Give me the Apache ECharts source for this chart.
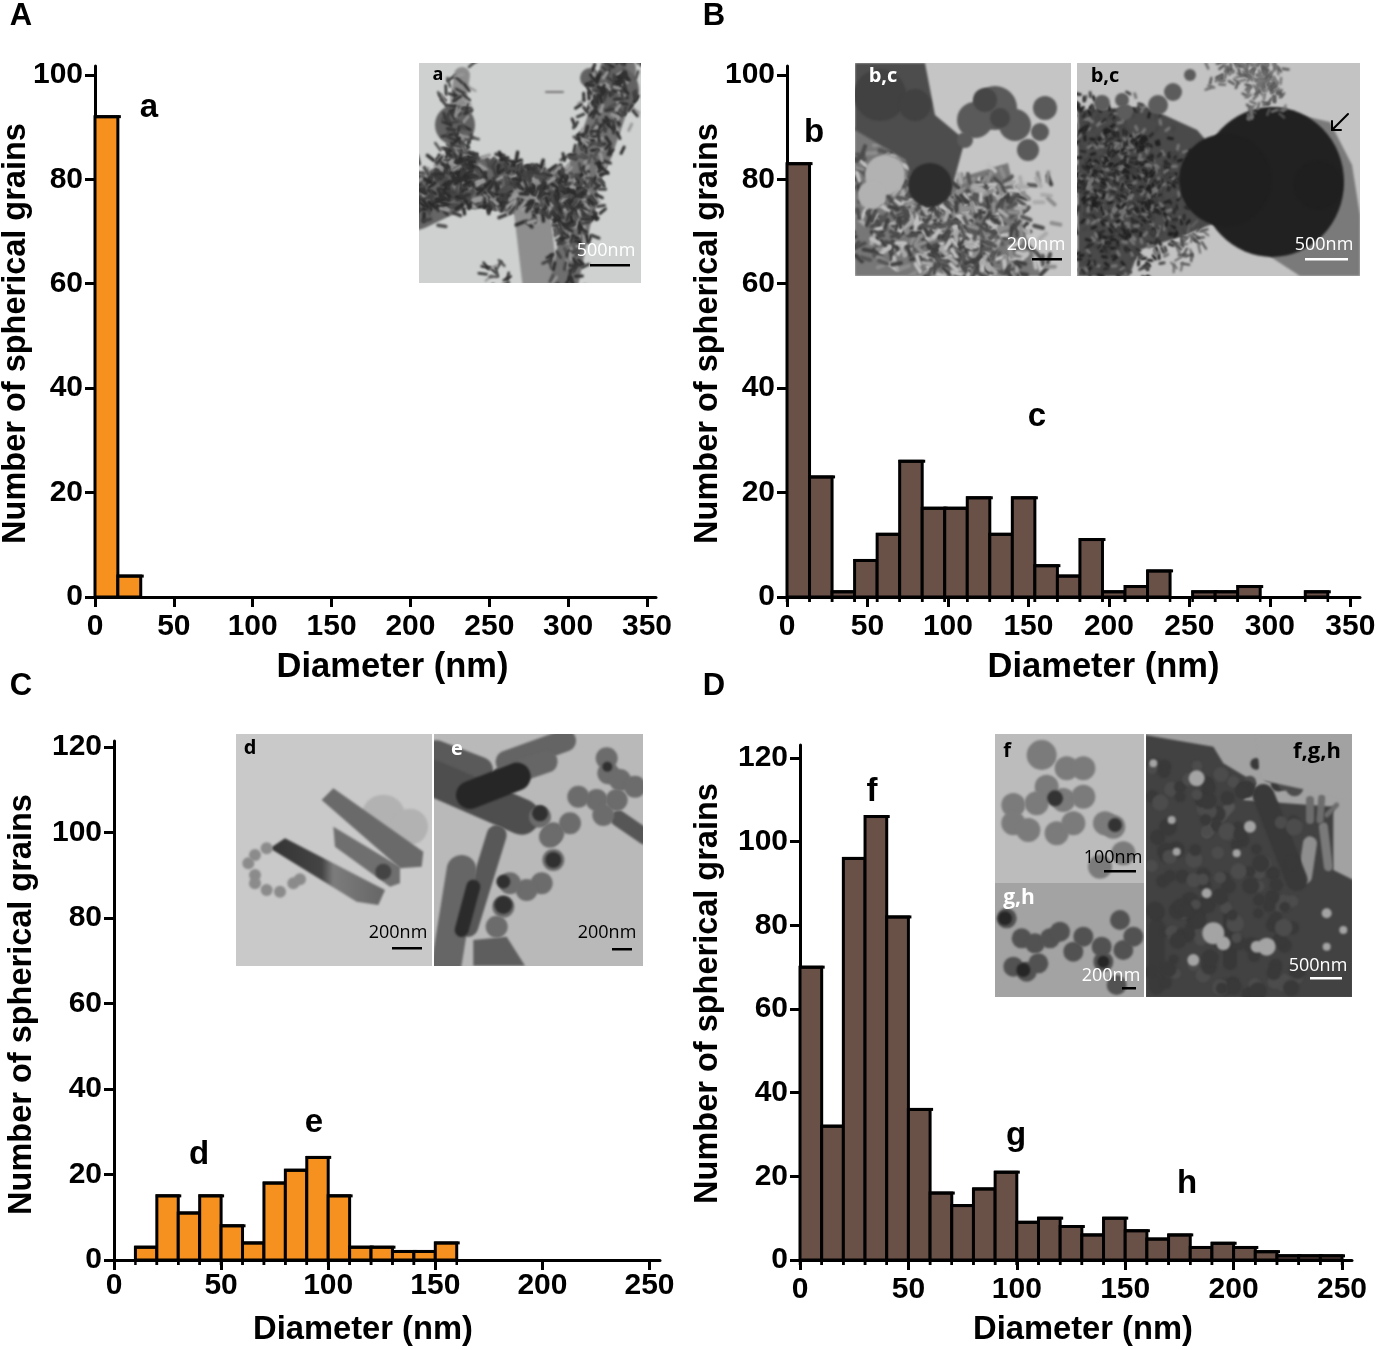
<!DOCTYPE html>
<html>
<head>
<meta charset="utf-8">
<title>Spherical grains</title>
<style>html,body{margin:0;padding:0;background:#fff}#main{width:1379px;height:1350px}</style>
<script src="https://cdn.jsdelivr.net/npm/echarts@6/dist/echarts.min.js"></script>
</head>
<body>
<div id="main"></div>
<script>
var countsA = [92, 4];
var countsB = [83, 23, 1, 7, 12, 26, 17, 17, 19, 12, 19, 6, 4, 11, 1, 2, 5, 0, 1, 1, 2, 0, 0, 1];
var countsC = [3, 15, 11, 15, 8, 4, 18, 21, 24, 15, 3, 3, 2, 2, 4];
var countsD = [70, 32, 96, 106, 82, 36, 16, 13, 17, 21, 9, 10, 8, 6, 10, 7, 5, 6, 3, 4, 3, 2, 1, 1, 1];
var ticksX350 = [0, 50, 100, 150, 200, 250, 300, 350];
var ticksX250 = [0, 50, 100, 150, 200, 250];
var ticksY100 = [0, 20, 40, 60, 80, 100];
var ticksY120 = [0, 20, 40, 60, 80, 100, 120];
var yTitle = 'Number of spherical grains';
var xTitle = 'Diameter (nm)';
var ORANGE = '#f6911f', BROWN = '#6a5148';
var FONT = '"Liberation Sans", Arial, sans-serif';
var PHOTO_FONT = '"Open Sans", sans-serif';

var panels = [
    {counts: countsA, start: 0, width: 14.5, color: ORANGE, tail: 0, left: 95, right: 656, top: 66, bottom: 597, xMax: 355.7, yMax: 101.7, xt: ticksX350, yt: ticksY100, xShift: 17, yShift: 2, yGap: 62, xMargin: 15, xSize: 34.5},
    {counts: countsB, start: 0, width: 14, color: BROWN, tail: 5, left: 787, right: 1360, top: 66, bottom: 597, xMax: 356, yMax: 101.7, xt: ticksX350, yt: ticksY100, xShift: 30, yShift: 2, yGap: 62, xMargin: 15, xSize: 34.5},
    {counts: countsC, start: 10, width: 10, color: ORANGE, tail: 5, left: 114, right: 660, top: 741, bottom: 1260, xMax: 254.9, yMax: 121.4, xt: ticksX250, yt: ticksY120, xShift: -24, yShift: 4, yGap: 75, xMargin: 11, xSize: 32.7},
    {counts: countsD, start: 0, width: 10, color: BROWN, tail: 5, left: 800, right: 1352, top: 745, bottom: 1260, xMax: 254.6, yMax: 123.1, xt: ticksX250, yt: ticksY120, xShift: 7, yShift: -9, yGap: 75, xMargin: 15, xSize: 32.7}
];

function renderBar(params, api) {
    var lo = api.coord([api.value(0), api.value(2)]);
    var hi = api.coord([api.value(1), 0]);
    var tail = api.value(3);
    var lines = [];
    if (api.value(2) > 0) {
        lines.push({type: 'rect', shape: {x: lo[0], y: lo[1], width: hi[0] - lo[0], height: hi[1] - lo[1]},
            style: {fill: api.value(4) ? ORANGE : BROWN, stroke: '#000', lineWidth: 3}});
        lines.push({type: 'line', shape: {x1: lo[0] - 1, y1: lo[1], x2: hi[0] + 3, y2: lo[1]},
            style: {stroke: '#000', lineWidth: 3}});
        if (tail) {
            lines.push({type: 'line', shape: {x1: lo[0], y1: hi[1], x2: lo[0], y2: hi[1] + tail}, style: {stroke: '#000', lineWidth: 2.5}});
            lines.push({type: 'line', shape: {x1: hi[0], y1: hi[1], x2: hi[0], y2: hi[1] + tail}, style: {stroke: '#000', lineWidth: 2.5}});
        }
    }
    return {type: 'group', children: lines};
}

var grids = [], xAxes = [], yAxes = [], series = [];
panels.forEach(function (p, i) {
    grids.push({left: p.left, top: p.top, width: p.right - p.left, height: p.bottom - p.top, containLabel: false, outerBoundsMode: 'none'});
    var axisBits = {
        nameMoveOverlap: false,
        axisLine: {onZero: false, lineStyle: {color: '#000', width: 3}},
        splitLine: {show: false}
    };
    xAxes.push(Object.assign({
        type: 'value', gridIndex: i, min: 0, max: p.xMax, name: xTitle, nameLocation: 'middle', nameGap: 53,
        nameTextStyle: {fontFamily: FONT, fontWeight: 'bold', fontSize: p.xSize, color: '#000',
            padding: p.xShift > 0 ? [0, 0, 0, 2 * p.xShift] : [0, -2 * p.xShift, 0, 0]},
        axisTick: {length: 10, lineStyle: {color: '#000', width: 3}, customValues: p.xt},
        axisLabel: {customValues: p.xt, margin: p.xMargin, fontFamily: FONT, fontWeight: 'bold', fontSize: 30, color: '#000'}
    }, axisBits));
    yAxes.push(Object.assign({
        type: 'value', gridIndex: i, min: 0, max: p.yMax, name: yTitle, nameLocation: 'middle', nameGap: p.yGap,
        nameTextStyle: {fontFamily: FONT, fontWeight: 'bold', fontSize: 32.5, color: '#000',
            padding: p.yShift > 0 ? [0, 2 * p.yShift, 0, 0] : [0, 0, 0, -2 * p.yShift]},
        axisTick: {length: 10, lineStyle: {color: '#000', width: 3}, customValues: p.yt},
        axisLabel: {customValues: p.yt, margin: 12, fontFamily: FONT, fontWeight: 'bold', fontSize: 30, color: '#000'}
    }, axisBits));
    series.push({
        type: 'custom', xAxisIndex: i, yAxisIndex: i, clip: false, renderItem: renderBar, silent: true,
        encode: {x: [0, 1], y: 2},
        data: p.counts.map(function (c, k) {
            return [p.start + k * p.width, p.start + (k + 1) * p.width, c, p.tail, p.color === ORANGE ? 1 : 0];
        })
    });
});

// ---- micrograph insets, sketched on small canvases ----
function hash(i) { var s = Math.sin(i * 12.9898) * 43758.5453; return s - Math.floor(s); }

function photo(x, y, w, h, bg, draw) {
    var cv = document.createElement('canvas');
    cv.width = w; cv.height = h;
    var c = cv.getContext('2d');
    c.fillStyle = bg; c.fillRect(0, 0, w, h);
    c.translate(-x, -y);
    c.lineCap = 'round'; c.lineJoin = 'round';
    c.filter = 'blur(1.3px)';
    draw(c);
    return {type: 'image', z: 5, style: {image: cv, x: x, y: y, width: w, height: h}};
}
function stroke(c, pts, w, col) {
    c.strokeStyle = col; c.lineWidth = w; c.beginPath();
    pts.forEach(function (q, i) { if (i) c.lineTo(q[0], q[1]); else c.moveTo(q[0], q[1]); });
    c.stroke();
}
function poly(c, pts, col) {
    c.fillStyle = col; c.beginPath();
    pts.forEach(function (q, i) { if (i) c.lineTo(q[0], q[1]); else c.moveTo(q[0], q[1]); });
    c.closePath(); c.fill();
}
function dots(c, list, r, col) {
    c.fillStyle = col;
    list.forEach(function (q) { c.beginPath(); c.arc(q[0], q[1], q[2] || r, 0, 7); c.fill(); });
}
// short flakes scattered along a path or inside a box
function flakes(c, pts, spread, n, len, w, cols, seed) {
    for (var i = 0; i < n; i++) {
        var a = hash(seed + i * 3 + 0.1) * (pts.length - 1), k = Math.floor(a), t = a - k;
        var q0 = pts[k], q1 = pts[Math.min(k + 1, pts.length - 1)];
        var px = q0[0] + (q1[0] - q0[0]) * t + (hash(seed + i * 3 + 1.1) - 0.5) * spread;
        var py = q0[1] + (q1[1] - q0[1]) * t + (hash(seed + i * 3 + 2.1) - 0.5) * spread;
        var ang = hash(seed + i * 7 + 0.7) * 6.28;
        stroke(c, [[px, py], [px + Math.cos(ang) * len, py + Math.sin(ang) * len]], w, cols[i % cols.length]);
    }
}

function drawA(c) {
    var arm = [[415, 205], [467, 180], [533, 192], [573, 198]];
    var up = [[573, 198], [595, 150], [612, 100], [618, 70]];
    var left = [[456, 170], [455, 125], [462, 75]];
    var down = [[530, 195], [540, 280]];
    var down2 = [[580, 205], [565, 280]];
    stroke(c, arm, 50, '#666');
    stroke(c, up, 36, '#737373');
    stroke(c, left, 16, '#8c8c8c');
    stroke(c, down, 36, '#8e8e8e');
    stroke(c, down2, 28, '#6e6e6e');
    dots(c, [[455, 125, 20], [615, 90, 24], [590, 78, 10]], 0, '#626262');
    var dark = ['#2a2a2a', '#3f3f3f', '#4e4e4e', '#343434', '#9a9a9a', '#2f2f2f'];
    flakes(c, arm, 56, 420, 8, 3.5, dark, 1);
    flakes(c, up, 48, 240, 7, 3, dark, 2);
    flakes(c, left, 30, 90, 9, 2.5, dark, 3);
    flakes(c, down2, 36, 100, 7, 3, dark, 4);
    flakes(c, [[495, 270], [505, 283]], 24, 14, 8, 2.5, dark, 5);
    stroke(c, [[546, 92], [563, 92]], 2, '#777');
}
function drawB1(c) {
    poly(c, [[855, 127], [942, 183], [1008, 163], [1020, 217], [1041, 276], [855, 276]], '#777');
    var cols = ['#3f3f3f', '#aaa', '#555', '#c0c0c0', '#4b4b4b', '#8d8d8d'];
    flakes(c, [[865, 190], [960, 240], [1010, 220]], 100, 700, 9, 4, cols, 11);
    dots(c, [[885, 175, 20], [872, 195, 14]], 0, '#b2b2b2');
    poly(c, [[855, 63], [925, 63], [935, 115], [965, 140], [950, 195], [925, 200], [905, 160], [855, 130]], '#4d4d4d');
    dots(c, [[930, 185, 22]], 0, '#2d2d2d');
    dots(c, [[880, 95, 26], [915, 105, 16]], 0, '#414141');
    dots(c, [[995, 108, 22], [975, 120, 18], [1015, 125, 16], [1045, 108, 12], [1028, 150, 11], [1040, 132, 9], [965, 140, 8]], 0, '#5a5a5a');
    dots(c, [[985, 100, 12], [1000, 118, 10]], 0, '#464646');
}
function drawB2(c) {
    var toX = function (q) { return [840 + q[0] / 2.94, 50 + q[1] / 3]; };
    poly(c, [[700, 180], [900, 170], [1050, 240], [1100, 300], [1100, 520], [1000, 560], [880, 600], [850, 678], [700, 678]].map(toX), '#4a4a4a');
    flakes(c, [[1085, 130], [1150, 190], [1100, 250]], 90, 900, 4, 3, ['#1f1f1f', '#777', '#2b2b2b', '#444'], 21);
    poly(c, [[1290, 113], [1330, 122], [1352, 165], [1360, 215], [1360, 276], [1300, 276], [1260, 250]], '#7a7a7a');
    c.fillStyle = '#212121';
    c.beginPath(); c.ellipse(1272, 182, 72, 75, 0, 0, 7); c.fill();
    dots(c, [[1225, 180, 46], [1318, 185, 24]], 0, '#1f1f1f');
    dots(c, [[1102, 103, 8], [1122, 100, 7], [1158, 105, 10], [1173, 92, 9], [1190, 75, 6], [1125, 112, 8]], 0, '#5c5c5c');
    flakes(c, [[1220, 72], [1265, 70], [1265, 105]], 36, 160, 6, 2.5, ['#555', '#777', '#6a6a6a'], 22);
    flakes(c, [[1200, 235], [1180, 262]], 24, 30, 8, 2, ['#444', '#666'], 23);
    c.filter = 'none';
    stroke(c, [[1348, 114], [1332, 130]], 2, '#000');
    stroke(c, [[1341, 130], [1332, 130], [1332, 121]], 2, '#000');
}
function drawD(c) {
    var z = function (a, b) { return [220 + a / 3, 720 + b / 3]; };
    dots(c, [z(490, 290).concat(22), z(570, 320).concat(18)], 0, '#b2b2b2');
    poly(c, [z(340, 320), z(540, 440), z(540, 490), z(510, 500), z(345, 380)], '#6f6f6f');
    poly(c, [z(305, 240), z(340, 205), z(610, 395), z(605, 440), z(540, 445)], '#6a6a6a');
    var g = c.createLinearGradient(z(150, 380)[0], 0, z(495, 510)[0], 0);
    g.addColorStop(0, '#333'); g.addColorStop(0.45, '#444'); g.addColorStop(0.55, '#7c7c7c'); g.addColorStop(1, '#666');
    poly(c, [z(150, 385), z(195, 355), z(495, 510), z(475, 555), z(410, 545)], g);
    dots(c, [z(490, 455).concat(8)], 0, '#444');
    var ring = [z(140, 385), z(105, 405), z(85, 430), z(105, 465), z(105, 490), z(140, 510), z(180, 515), z(220, 490), z(240, 478)];
    dots(c, ring, 6, '#8b8b8b');
}
function drawE(c) {
    var z = function (a, b) { return [220 + a / 3, 720 + b / 3]; };
    stroke(c, [z(650, 100), z(780, 150)], 26, '#5a5a5a');
    stroke(c, [z(860, 125), z(1035, 62)], 22, '#646464');
    stroke(c, [z(850, 170), z(980, 125)], 22, '#666');
    stroke(c, [z(640, 175), z(905, 290)], 36, '#4e4e4e');
    stroke(c, [z(750, 225), z(890, 170)], 28, '#262626');
    stroke(c, [z(1195, 295), z(1275, 350)], 16, '#565656');
    dots(c, [z(1160, 115), z(1165, 160), z(1200, 180), z(1245, 200), z(1190, 240), z(1130, 240), z(1075, 230), z(1050, 310), z(1150, 285), z(1000, 340), z(960, 290), z(990, 350), z(1000, 420), z(965, 490), z(920, 510), z(870, 490), z(850, 560), z(830, 620)], 11, '#6c6c6c');
    dots(c, [z(1162, 140).concat(5), z(960, 280).concat(8), z(1000, 420).concat(8), z(850, 485).concat(7), z(850, 555).concat(9)], 0, '#303030');
    stroke(c, [z(830, 345), z(745, 620)], 20, '#585858');
    stroke(c, [z(725, 450), z(680, 730)], 30, '#666');
    stroke(c, [z(760, 500), z(725, 630)], 14, '#2b2b2b');
    poly(c, [z(760, 660), z(860, 650), z(915, 737), z(760, 737)], '#5e5e5e');
}
function drawF(c) {
    var z = function (a, b) { return [980 + a / 3, 720 + b / 3]; };
    dots(c, [z(185, 105).concat(15), z(260, 145), z(310, 145), z(200, 200), z(250, 240), z(310, 230), z(170, 250), z(100, 255), z(100, 310), z(145, 330), z(230, 340), z(280, 310), z(375, 310), z(400, 320), z(360, 440), z(430, 400)], 12, '#7b7b7b');
    dots(c, [z(225, 235).concat(8), z(405, 315).concat(7)], 0, '#333');
}
function drawG(c) {
    var z = function (a, b) { return [980 + a / 3, 720 + b / 3]; };
    dots(c, [z(80, 595), z(125, 655), z(165, 670), z(210, 655), z(240, 635), z(280, 695), z(310, 650), z(365, 680), z(370, 725), z(430, 690), z(420, 600), z(460, 650), z(100, 740), z(140, 755), z(175, 730), z(410, 795)], 10, '#525252');
    dots(c, [z(370, 725).concat(6), z(130, 750).concat(7), z(75, 595).concat(7)], 0, '#262626');
}
function drawH(c) {
    var z = function (a, b) { return [980 + a / 3, 720 + b / 3]; };
    poly(c, [z(495, 45), z(700, 80), z(730, 130), z(830, 190), z(790, 240), z(1060, 260), z(1060, 450), z(1120, 480), z(1120, 835), z(495, 835)], '#424242');
    stroke(c, [z(990, 370), z(975, 470)], 14, '#8e8e8e');
    stroke(c, [z(1030, 320), z(1045, 440)], 9, '#7a7a7a');
    stroke(c, [z(990, 240), z(990, 300)], 8, '#6c6c6c');
    stroke(c, [z(1025, 235), z(1020, 300)], 7, '#6c6c6c');
    stroke(c, [z(1070, 255), z(1040, 285)], 5, '#6c6c6c');
    stroke(c, [z(850, 225), z(950, 480)], 22, '#393939');
    stroke(c, [z(750, 260), z(680, 340)], 10, '#565656');
    stroke(c, [z(750, 590), z(750, 730)], 14, '#383838');
    stroke(c, [z(530, 620), z(530, 800)], 16, '#3a3a3a');
    dots(c, [z(760, 185), z(810, 185)], 6, '#4d4d4d');
    for (var i = 0; i < 150; i++) {
        dots(c, [[1148 + hash(i + 40.3) * 150, 760 + hash(i + 90.7) * 235, 5 + hash(i + 5.5) * 4]], 0, i % 3 ? '#393939' : '#4c4c4c');
    }
    // gaps between the grains, drawn last so the paper grey shows through
    var holes = [[650, 175, 8], [575, 300, 4], [590, 395, 4], [680, 520, 5], [700, 640, 11], [730, 670, 7], [860, 680, 9], [830, 680, 6], [1040, 580, 5], [640, 720, 6], [1090, 630, 4], [770, 400, 4], [1040, 680, 4], [520, 130, 4], [810, 320, 6]];
    holes.forEach(function (h) { dots(c, [z(h[0], h[1]).concat(h[2])], 0, '#a4a4a4'); });
    poly(c, [z(830, 45), z(1120, 45), z(1120, 240), z(840, 180)], '#a2a2a2');
}

var photos = [
    photo(419, 63, 222, 220, '#cfd0d0', drawA),
    photo(855, 63, 216, 213, '#c5c5c5', drawB1),
    photo(1077, 63, 283, 213, '#c3c3c3', drawB2),
    photo(236, 734, 196, 232, '#c9c9c9', drawD),
    photo(434, 734, 209, 232, '#b9b9b9', drawE),
    photo(995, 734, 149, 149, '#bcbcbc', drawF),
    photo(995, 883, 149, 114, '#a3a3a3', drawG),
    photo(1146, 734, 206, 263, '#a2a2a2', drawH)
];

function txt(s, x, y, size, col, weight, family) {
    return {type: 'text', z: 10, x: x, y: y, style: {text: s, fill: col, fontSize: size, fontWeight: weight || 'bold', fontFamily: family || FONT, align: 'center', verticalAlign: 'middle'}};
}
function bar(x1, x2, y, col) {
    return {type: 'rect', z: 10, shape: {x: x1, y: y - 1, width: x2 - x1, height: 2.5}, style: {fill: col}};
}
var photoNotes = [
    txt('a', 438, 75, 18, '#000', 'bold', PHOTO_FONT), txt('500nm', 606, 251, 18, '#fff', 'normal', PHOTO_FONT), bar(590, 630, 265, '#000'),
    txt('b,c', 883, 76, 20, '#fff', 'bold', PHOTO_FONT), txt('200nm', 1036, 245, 18, '#fff', 'normal', PHOTO_FONT), bar(1032, 1062, 259, '#000'),
    txt('b,c', 1105, 76, 20, '#000', 'bold', PHOTO_FONT), txt('500nm', 1324, 245, 18, '#fff', 'normal', PHOTO_FONT), bar(1305, 1348, 259, '#fff'),
    txt('d', 250, 748, 20, '#000', 'bold', PHOTO_FONT), txt('200nm', 398, 933, 18, '#000', 'normal', PHOTO_FONT), bar(392, 422, 948, '#000'),
    txt('e', 457, 749, 20, '#fff', 'bold', PHOTO_FONT), txt('200nm', 607, 933, 18, '#000', 'normal', PHOTO_FONT), bar(612, 632, 949, '#000'),
    txt('f', 1007, 751, 20, '#000', 'bold', PHOTO_FONT), txt('100nm', 1113, 858, 18, '#000', 'normal', PHOTO_FONT), bar(1104, 1136, 871, '#000'),
    txt('g,h', 1019, 898, 21, '#fff', 'bold', PHOTO_FONT), txt('200nm', 1111, 976, 18, '#fff', 'normal', PHOTO_FONT), bar(1122, 1136, 988, '#000'),
    txt('f,g,h', 1317, 752, 22, '#000', 'bold', PHOTO_FONT), txt('500nm', 1318, 966, 18, '#fff', 'normal', PHOTO_FONT), bar(1310, 1342, 978, '#fff')
];
var letters = [
    txt('A', 21, 16, 31, '#000'), txt('B', 714, 16, 31, '#000'), txt('C', 21, 686, 31, '#000'), txt('D', 714, 686, 31, '#000'),
    txt('a', 149, 108, 33, '#000'), txt('b', 814, 133, 33, '#000'), txt('c', 1037, 417, 33, '#000'), txt('d', 199, 1155, 33, '#000'),
    txt('e', 314, 1123, 33, '#000'), txt('f', 872, 792, 33, '#000'), txt('g', 1016, 1136, 33, '#000'), txt('h', 1187, 1184, 33, '#000')
];

var myChart = echarts.init(document.getElementById('main'), null, {renderer: 'canvas'});
myChart.setOption({
    animation: false,
    backgroundColor: '#fff',
    grid: grids,
    xAxis: xAxes,
    yAxis: yAxes,
    series: series,
    graphic: {elements: photos.concat(photoNotes, letters)}
});
</script>
</body>
</html>
